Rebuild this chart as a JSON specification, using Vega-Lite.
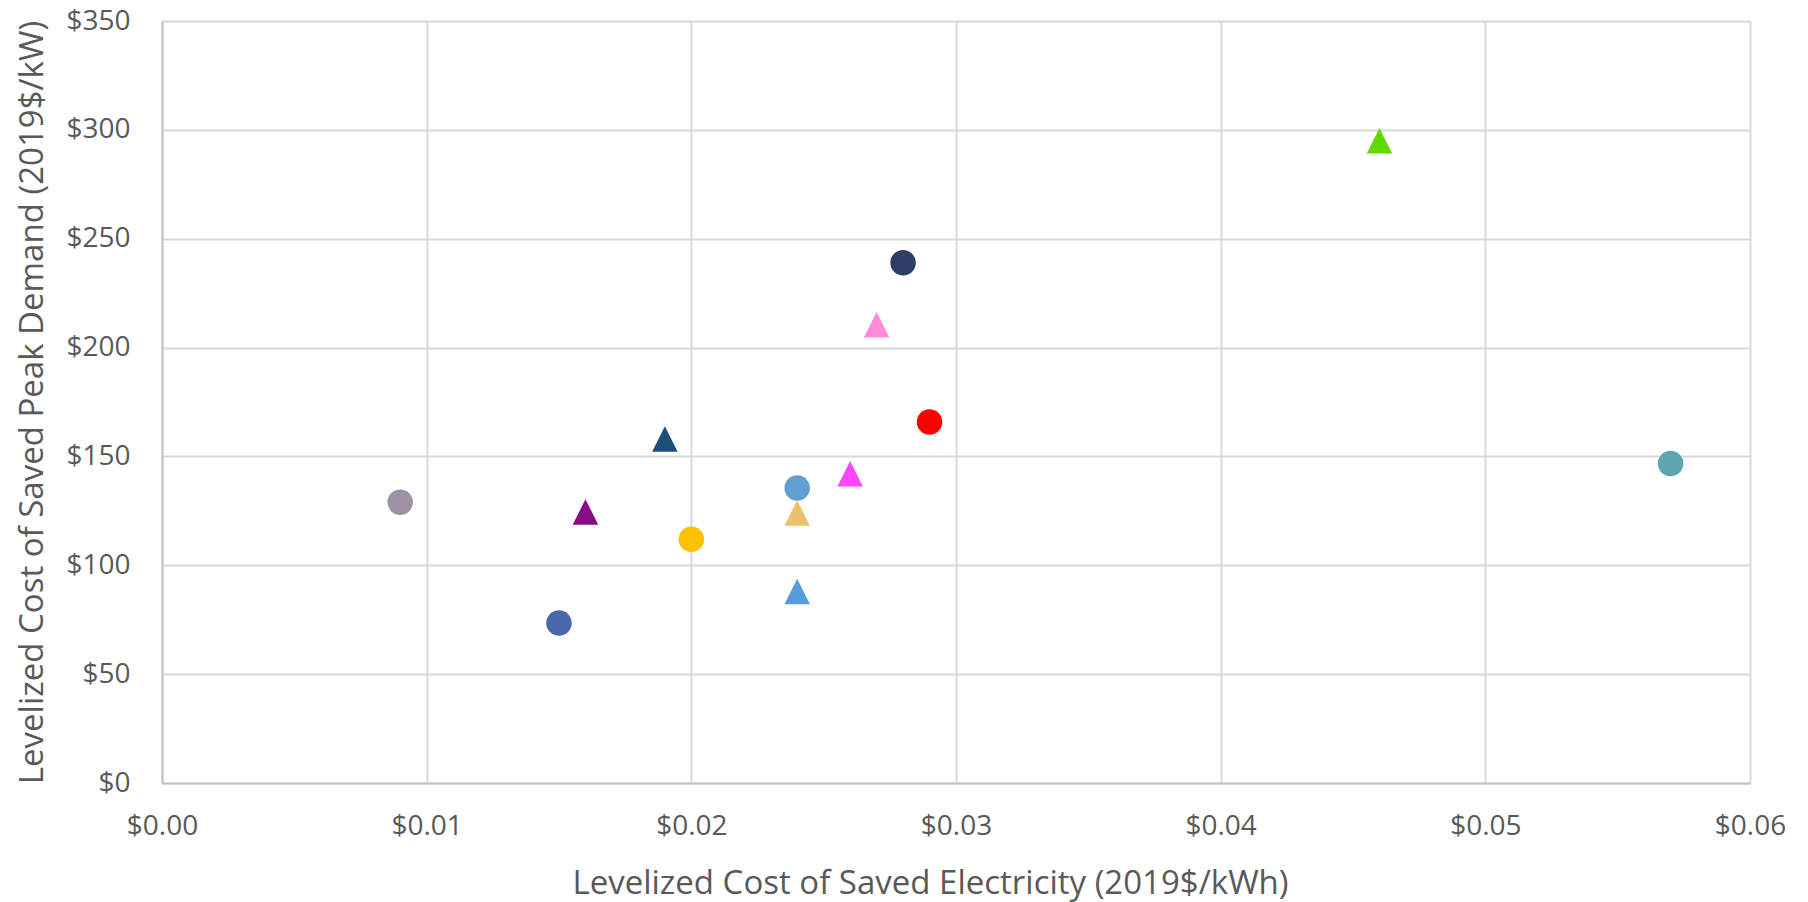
{
  "$schema": "https://vega.github.io/schema/vega-lite/v6.json",
  "width": 1588,
  "height": 762,
  "autosize": {"type": "none"},
  "padding": {"left": 162, "top": 21, "right": 58, "bottom": 119},
  "background": "white",
  "config": {
    "font": "Open Sans",
    "view": {"stroke": null},
    "axis": {
      "labelFont": "Open Sans",
      "titleFont": "Open Sans",
      "labelColor": "#595959",
      "titleColor": "#595959",
      "labelFontSize": 28,
      "titleFontSize": 33,
      "titleFontWeight": "normal",
      "gridColor": "#D9D9D9",
      "gridWidth": 2,
      "domainColor": "#C4C4C4",
      "domainWidth": 2,
      "ticks": false
    }
  },
  "data": {
    "values": [
      {"series": "S1", "marker": "circle", "lcse": 0.009, "lcsp": 129},
      {"series": "S2", "marker": "circle", "lcse": 0.015, "lcsp": 73.5},
      {"series": "S5", "marker": "circle", "lcse": 0.020, "lcsp": 112},
      {"series": "S6", "marker": "circle", "lcse": 0.024, "lcsp": 135.5},
      {"series": "S11", "marker": "circle", "lcse": 0.028, "lcsp": 239},
      {"series": "S12", "marker": "circle", "lcse": 0.029, "lcsp": 165.8},
      {"series": "S14", "marker": "circle", "lcse": 0.057, "lcsp": 146.8},
      {"series": "S3", "marker": "triangle", "lcse": 0.016, "lcsp": 124.5},
      {"series": "S4", "marker": "triangle", "lcse": 0.019, "lcsp": 158},
      {"series": "S7", "marker": "triangle", "lcse": 0.024, "lcsp": 124},
      {"series": "S8", "marker": "triangle", "lcse": 0.024, "lcsp": 88},
      {"series": "S9", "marker": "triangle", "lcse": 0.026, "lcsp": 142},
      {"series": "S10", "marker": "triangle", "lcse": 0.027, "lcsp": 210.5},
      {"series": "S13", "marker": "triangle", "lcse": 0.046, "lcsp": 295}
    ]
  },
  "mark": {"type": "point", "filled": true, "opacity": 1, "size": 650},
  "encoding": {
    "x": {
      "field": "lcse",
      "type": "quantitative",
      "scale": {"domain": [0, 0.06], "nice": false, "zero": true},
      "axis": {
        "title": "Levelized Cost of Saved Electricity (2019$/kWh)",
        "format": "$.2f",
        "values": [0, 0.01, 0.02, 0.03, 0.04, 0.05, 0.06],
        "labelPadding": 29,
        "labelFlush": false,
        "labelOverlap": false,
        "titleX": 768,
        "titleY": 110,
        "titleAnchor": null,
        "titleAlign": "center",
        "titleBaseline": "alphabetic"
      }
    },
    "y": {
      "field": "lcsp",
      "type": "quantitative",
      "scale": {"domain": [0, 350], "nice": false},
      "axis": {
        "title": "Levelized Cost of Saved Peak Demand (2019$/kW)",
        "format": "$.0f",
        "values": [0, 50, 100, 150, 200, 250, 300, 350],
        "labelPadding": 32,
        "labelFlush": false,
        "labelOverlap": false,
        "titleAngle": -90,
        "titleX": -120,
        "titleY": 381,
        "titleAlign": "center",
        "titleBaseline": "alphabetic"
      }
    },
    "color": {
      "field": "series",
      "type": "nominal",
      "legend": null,
      "scale": {
        "domain": ["S1", "S2", "S3", "S4", "S5", "S6", "S7", "S8", "S9", "S10", "S11", "S12", "S13", "S14"],
        "range": ["#9E91A3", "#4A67AE", "#880B88", "#1F4E79", "#FFC000", "#629FD2", "#EBC26C", "#559CDD", "#FF45FF", "#FF8BD9", "#2D3D66", "#FF0000", "#5FDB00", "#5DA5B1"]
      }
    },
    "shape": {
      "field": "marker",
      "type": "nominal",
      "legend": null,
      "scale": {"domain": ["circle", "triangle"], "range": ["circle", "M0,-1L1,1L-1,1Z"]}
    }
  }
}
